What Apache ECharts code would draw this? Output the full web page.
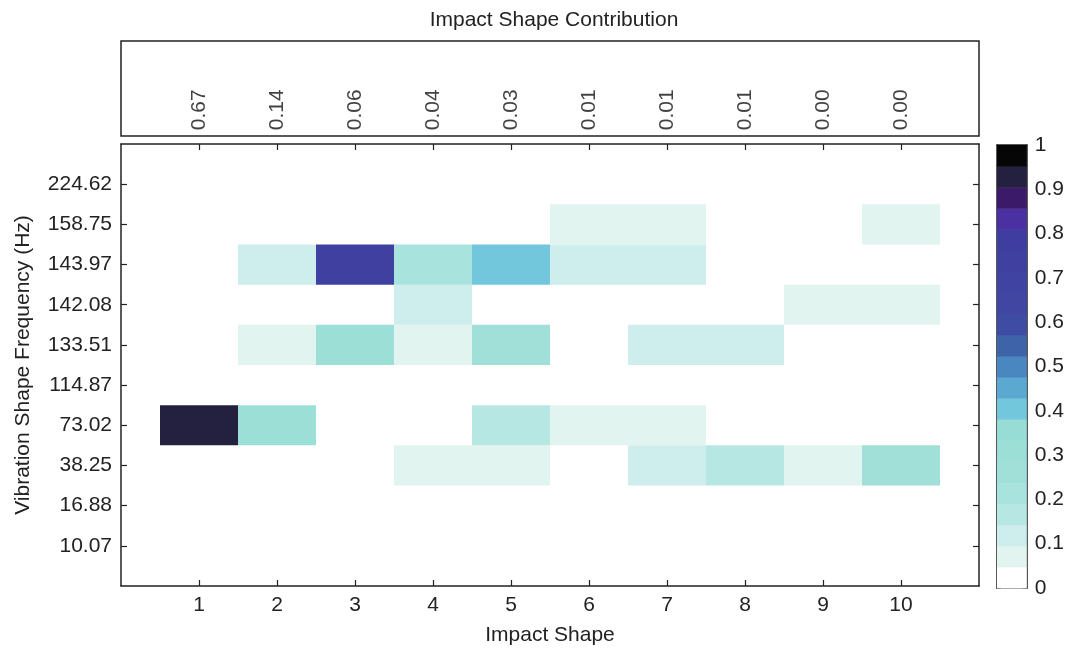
<!DOCTYPE html>
<html>
<head>
<meta charset="utf-8">
<script src="https://cdn.jsdelivr.net/npm/echarts@6/dist/echarts.min.js"></script>
<style>
  html, body { margin: 0; padding: 0; background: #fff; }
  #chart { width: 1067px; height: 653px; }
</style>
</head>
<body>
<div id="chart"></div>
<script>
// Impact shapes along x, vibration shape frequencies along y (bottom to top)
const shapes = [1, 2, 3, 4, 5, 6, 7, 8, 9, 10];
const freqLabels = ['10.07', '16.88', '38.25', '73.02', '114.87', '133.51', '142.08', '143.97', '158.75', '224.62'];

// Contribution of each impact shape (top panel)
const contributions = [0.67, 0.14, 0.06, 0.04, 0.03, 0.01, 0.01, 0.01, 0.00, 0.00];

// Cell intensities, one row per frequency (bottom to top), one value per shape
const row_10_07  = [0, 0, 0, 0, 0, 0, 0, 0, 0, 0];
const row_16_88  = [0, 0, 0, 0, 0, 0, 0, 0, 0, 0];
const row_38_25  = [0, 0, 0, 0.07, 0.07, 0, 0.12, 0.17, 0.07, 0.27];
const row_73_02  = [0.93, 0.31, 0, 0, 0.17, 0.07, 0.07, 0, 0, 0];
const row_114_87 = [0, 0, 0, 0, 0, 0, 0, 0, 0, 0];
const row_133_51 = [0, 0.07, 0.31, 0.07, 0.27, 0, 0.12, 0.12, 0, 0];
const row_142_08 = [0, 0, 0, 0.12, 0, 0, 0, 0, 0.07, 0.07];
const row_143_97 = [0, 0.12, 0.74, 0.21, 0.40, 0.12, 0.12, 0, 0, 0];
const row_158_75 = [0, 0, 0, 0, 0, 0.07, 0.07, 0, 0, 0.07];
const row_224_62 = [0, 0, 0, 0, 0, 0, 0, 0, 0, 0];
const rows = [row_10_07, row_16_88, row_38_25, row_73_02, row_114_87,
              row_133_51, row_142_08, row_143_97, row_158_75, row_224_62];

// Stepped colormap: 21 equal bands over [0, 1]
const bandColors = [
  '#ffffff', '#e2f4f0', '#cdeeec', '#b7e7e3', '#a8e3de', '#a0e0d9', '#9bdfd7',
  '#97ddd5', '#72c7dc', '#5ba8d1', '#4a87c0', '#3e63a9', '#3f4ca4', '#4046a2',
  '#4043a1', '#3f40a0', '#3f3d9f', '#4a30a0', '#3b1b69', '#23213f', '#060606'
];
const colorbarTicks = [0, 0.1, 0.2, 0.3, 0.4, 0.5, 0.6, 0.7, 0.8, 0.9, 1];

const nBands = bandColors.length;
const pieces = bandColors.map((c, k) => ({
  gte: k / nBands,
  lt: k === nBands - 1 ? 1.0001 : (k + 1) / nBands,
  color: c
}));

const cells = [];
rows.forEach((r, yi) => {
  r.forEach((v, xi) => {
    if (v > 0) cells.push([shapes[xi], yi + 1, v]);
  });
});

const bands = bandColors.map((c, k) => [k / nBands, (k + 1) / nBands, k]);
const contribPoints = contributions.map((c, i) => [shapes[i], 0.06, c]);
const xTickPos = shapes.map((s, i) => i + 1);
const yTickPos = freqLabels.map((f, i) => i + 1);

const FONT = 'Liberation Sans';
const INK = '#222';
const FS = 21;

const boxLine = { show: true, onZero: false, lineStyle: { color: INK, width: 1.5 } };
const xTick = { show: true, inside: true, length: 6, customValues: xTickPos, lineStyle: { color: INK, width: 1.2 } };
const yTick = { show: true, inside: true, length: 6, customValues: yTickPos, lineStyle: { color: INK, width: 1.2 } };
const cbTick = { show: true, inside: true, length: 4, lineStyle: { color: INK, width: 1 } };

const chart = echarts.init(document.getElementById('chart'), null, { renderer: 'canvas' });

chart.setOption({
  animation: false,
  backgroundColor: '#ffffff',
  textStyle: { fontFamily: FONT },
  title: {
    text: 'Impact Shape Contribution',
    left: 549, textAlign: 'center', top: 5,
    textStyle: { fontFamily: FONT, fontSize: FS, fontWeight: 'normal', color: INK }
  },
  grid: [
    { left: 121, top: 144, width: 858, height: 442 },
    { left: 121, top: 41, width: 858, height: 95, show: true, borderColor: INK, borderWidth: 1.5 },
    { left: 997, top: 145, width: 35, height: 443 }
  ],
  visualMap: {
    type: 'piecewise', show: false, seriesIndex: 0, dimension: 2, pieces: pieces
  },
  xAxis: [
    {
      gridIndex: 0, type: 'value', min: 0, max: 11, interval: 1, position: 'bottom',
      name: 'Impact Shape', nameLocation: 'middle', nameGap: 39,
      nameTextStyle: { fontFamily: FONT, fontSize: FS, color: INK },
      axisLine: boxLine, axisTick: xTick, splitLine: { show: false },
      axisLabel: {
        fontFamily: FONT, fontSize: FS, color: INK, margin: 9,
        formatter: v => (v >= 1 && v <= shapes.length ? String(shapes[v - 1]) : '')
      }
    },
    {
      gridIndex: 0, type: 'value', min: 0, max: 11, interval: 1, position: 'top',
      axisLine: boxLine, axisTick: xTick, splitLine: { show: false }, axisLabel: { show: false }
    },
    { gridIndex: 1, type: 'value', min: 0, max: 11, show: false },
    {
      gridIndex: 2, type: 'value', min: 0, max: 1, position: 'bottom',
      axisLine: boxLine, axisTick: { show: false }, axisLabel: { show: false }, splitLine: { show: false }
    },
    {
      gridIndex: 2, type: 'value', min: 0, max: 1, position: 'top',
      axisLine: boxLine, axisTick: { show: false }, axisLabel: { show: false }, splitLine: { show: false }
    }
  ],
  yAxis: [
    {
      gridIndex: 0, type: 'value', min: 0, max: 11, interval: 1, position: 'left',
      name: 'Vibration Shape Frequency (Hz)', nameLocation: 'middle', nameGap: 87,
      nameTextStyle: { fontFamily: FONT, fontSize: FS, color: INK },
      axisLine: boxLine, axisTick: yTick, splitLine: { show: false },
      axisLabel: {
        fontFamily: FONT, fontSize: FS, color: INK, margin: 9,
        formatter: v => (v >= 1 && v <= freqLabels.length ? freqLabels[v - 1] : '')
      }
    },
    {
      gridIndex: 0, type: 'value', min: 0, max: 11, interval: 1, position: 'right',
      axisLine: boxLine, axisTick: yTick, splitLine: { show: false }, axisLabel: { show: false }
    },
    { gridIndex: 1, type: 'value', min: 0, max: 1, show: false },
    {
      gridIndex: 2, type: 'value', min: 0, max: 1, interval: 0.1, position: 'right',
      axisLine: boxLine, axisTick: cbTick, splitLine: { show: false },
      axisLabel: {
        fontFamily: FONT, fontSize: FS, color: INK, margin: 8,
        formatter: v => {
          const t = colorbarTicks.find(c => Math.abs(c - v) < 1e-6);
          if (t === undefined) return '';
          return (t === 0 || t === 1) ? String(t) : t.toFixed(1);
        }
      }
    },
    {
      gridIndex: 2, type: 'value', min: 0, max: 1, interval: 0.1, position: 'left',
      axisLine: boxLine, axisTick: cbTick, splitLine: { show: false }, axisLabel: { show: false }
    }
  ],
  series: [
    {
      // main grid of cells
      type: 'custom', xAxisIndex: 0, yAxisIndex: 0, data: cells,
      encode: { x: 0, y: 1 }, z: 1,
      renderItem: (params, api) => {
        const x = api.value(0), y = api.value(1);
        const p0 = api.coord([x - 0.5, y + 0.5]);
        const p1 = api.coord([x + 0.5, y - 0.5]);
        return {
          type: 'rect',
          shape: { x: p0[0], y: p0[1], width: p1[0] - p0[0], height: p1[1] - p0[1] },
          style: { fill: api.visual('color') }
        };
      }
    },
    {
      // contribution values above the grid
      type: 'scatter', xAxisIndex: 2, yAxisIndex: 2, data: contribPoints,
      symbolSize: 0, silent: true,
      label: {
        show: true, position: [0, 0], rotate: 90, align: 'left', verticalAlign: 'middle',
        fontFamily: FONT, fontSize: FS, color: '#111',
        formatter: p => p.data[2].toFixed(2)
      }
    },
    {
      // stepped colorbar
      type: 'custom', xAxisIndex: 3, yAxisIndex: 3, data: bands, z: 1,
      renderItem: (params, api) => {
        const lo = api.value(0), hi = api.value(1), k = api.value(2);
        const pTop = api.coord([0, hi]);
        const pBot = api.coord([1, lo]);
        return {
          type: 'rect',
          shape: { x: pTop[0], y: pTop[1], width: pBot[0] - pTop[0], height: pBot[1] - pTop[1] + 0.5 },
          style: { fill: bandColors[k] }
        };
      }
    }
  ]
});
</script>
</body>
</html>
